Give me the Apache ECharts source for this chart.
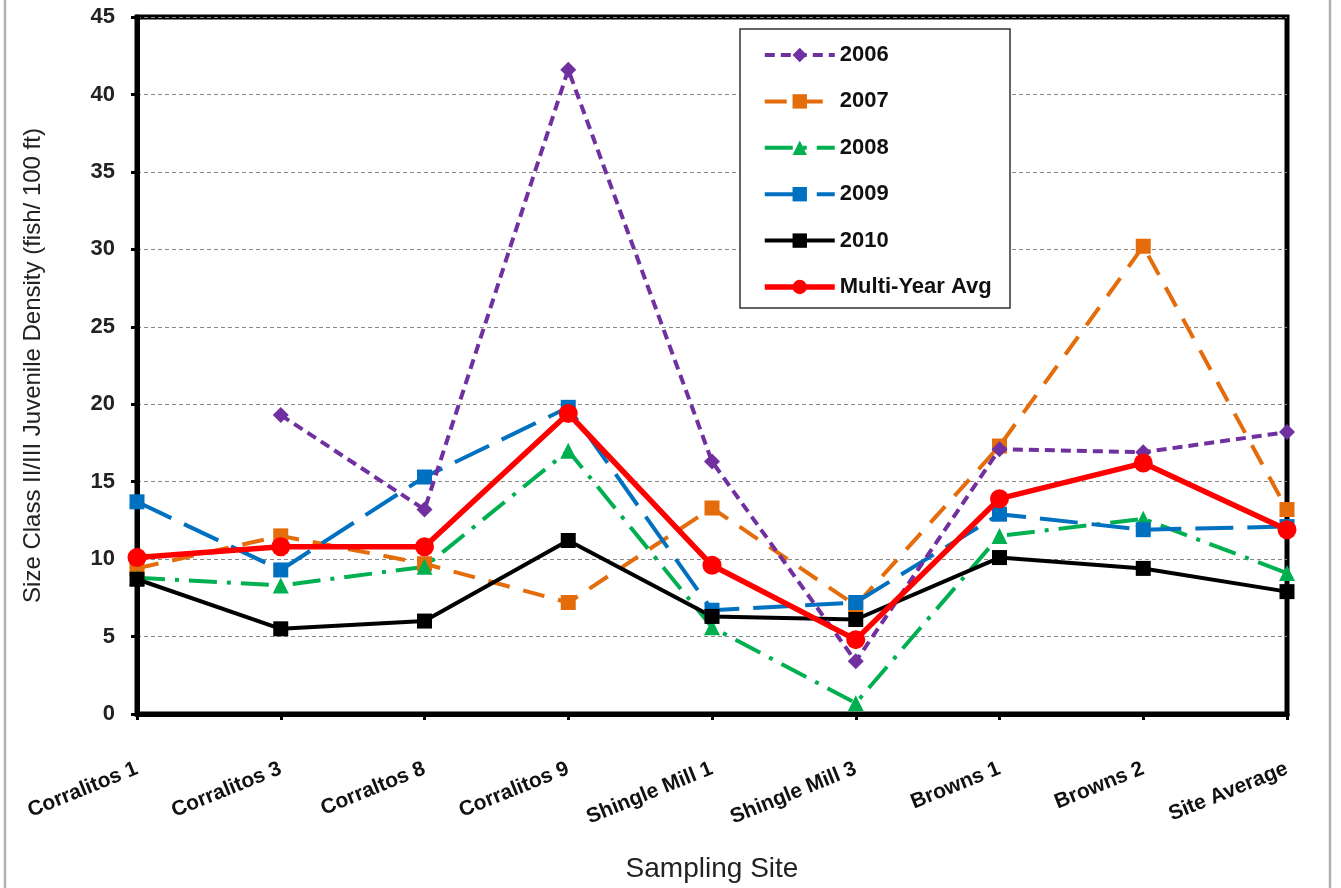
<!DOCTYPE html>
<html>
<head>
<meta charset="utf-8">
<script src="https://cdn.jsdelivr.net/npm/echarts@6/dist/echarts.min.js"></script>
<style>html,body{margin:0;padding:0;background:#fff;}#c{width:1341px;height:888px;}</style>
</head>
<body>
<div id="c"></div>
<script>
const categories = ['Corralitos 1','Corralitos 3','Corraltos 8','Corralitos 9','Shingle Mill 1','Shingle Mill 3','Browns 1','Browns 2','Site Average'];
const y2006 = [null, 19.3, 13.2, 41.6, 16.3, 3.4, 17.1, 16.9, 18.2];
const y2007 = [9.4, 11.5, 9.7, 7.2, 13.3, 7.0, 17.3, 30.2, 13.2];
const y2008 = [8.8, 8.3, 9.5, 17.0, 5.6, 0.7, 11.5, 12.6, 9.1];
const y2009 = [13.7, 9.3, 15.3, 19.8, 6.7, 7.2, 12.9, 11.9, 12.1];
const y2010 = [8.7, 5.5, 6.0, 11.2, 6.3, 6.1, 10.1, 9.4, 7.9];
const yAvg  = [10.1, 10.8, 10.8, 19.4, 9.6, 4.8, 13.9, 16.2, 11.9];
const yTicks = [0,5,10,15,20,25,30,35,40,45];

const FONT = '"Liberation Sans", Arial, sans-serif';
const chart = echarts.init(document.getElementById('c'));

const styles = {
  '2006': { color: '#7030A0', dash: [10, 6], width: 4, symbol: 'diamond', size: 16, z: 3 },
  '2007': { color: '#E46C0A', dash: [22, 14], width: 4, symbol: 'rect', size: 15, z: 2 },
  '2008': { color: '#00B050', dash: [28, 10, 4, 10], width: 4, symbol: 'triangle', size: 16, z: 2 },
  '2009': { color: '#0070C0', dash: [38, 14], width: 4, symbol: 'rect', size: 15, z: 2 },
  '2010': { color: '#000000', dash: 'solid', width: 4, symbol: 'rect', size: 15, z: 2 },
  'Multi-Year Avg': { color: '#FF0000', dash: 'solid', width: 5.5, symbol: 'circle', size: 19, z: 4 }
};
const seriesData = { '2006': y2006, '2007': y2007, '2008': y2008, '2009': y2009, '2010': y2010, 'Multi-Year Avg': yAvg };

function mk(name) {
  const s = styles[name];
  return {
    name, type: 'line', data: seriesData[name], z: s.z,
    symbol: s.symbol, symbolSize: s.size,
    connectNulls: false,
    lineStyle: { color: s.color, width: s.width, type: s.dash },
    itemStyle: { color: s.color, borderWidth: 0 },
    emphasis: { disabled: true },
    animation: false
  };
}
const names = Object.keys(styles);

chart.setOption({
  animation: false,
  backgroundColor: '#fff',
  textStyle: { fontFamily: FONT },
  graphic: [
    { type: 'rect', z: -10, shape: { x: 5, y: -10, width: 1325, height: 910 }, style: { fill: 'none', stroke: '#b0b0b0', lineWidth: 2.5 } },
    { type: 'rect', z: 50, shape: { x: 740, y: 29, width: 270, height: 279 }, style: { fill: '#fff', stroke: '#333', lineWidth: 1.5 } }
  ],
  grid: { left: 137, right: 54, top: 17, bottom: 169, show: true, borderColor: '#000', borderWidth: 5, backgroundColor: 'transparent' },
  legend: {
    orient: 'vertical', left: 757, top: 39,
    itemWidth: 70, itemHeight: 18, itemGap: 24.4,
    textStyle: { fontSize: 22, fontWeight: 'bold', color: '#111', fontFamily: FONT },
    data: names.map(n => ({ name: n, lineStyle: { width: styles[n].width, type: styles[n].dash, color: styles[n].color } })),
    z: 60
  },
  xAxis: {
    type: 'category', data: categories, boundaryGap: false,
    name: 'Sampling Site', nameLocation: 'middle', nameGap: 141,
    nameTextStyle: { fontSize: 28, color: '#222', fontFamily: FONT },
    axisLine: { lineStyle: { color: '#000', width: 5 } },
    axisTick: { show: true, alignWithLabel: true, length: 6, lineStyle: { color: '#000', width: 3 } },
    axisLabel: { rotate: 22, fontSize: 21, fontWeight: 'bold', color: '#111', margin: 54, fontFamily: FONT, interval: 0 },
    splitLine: { show: false }
  },
  yAxis: {
    type: 'value', min: 0, max: 45, interval: 5,
    name: 'Size Class II/III Juvenile Density (fish/ 100 ft)', nameLocation: 'middle', nameGap: 92,
    nameTextStyle: { fontSize: 24, color: '#222', fontFamily: FONT },
    axisLine: { show: true, lineStyle: { color: '#000', width: 5 } },
    axisTick: { show: true, length: 6, lineStyle: { color: '#000', width: 3 } },
    axisLabel: { fontSize: 22, fontWeight: 'bold', color: '#222', margin: 22, fontFamily: FONT,
      formatter: v => yTicks.includes(v) ? String(v) : '' },
    splitLine: { show: true, lineStyle: { color: '#888', width: 1, type: [4, 3] } }
  },
  series: names.map(mk)
});
</script>
</body>
</html>
